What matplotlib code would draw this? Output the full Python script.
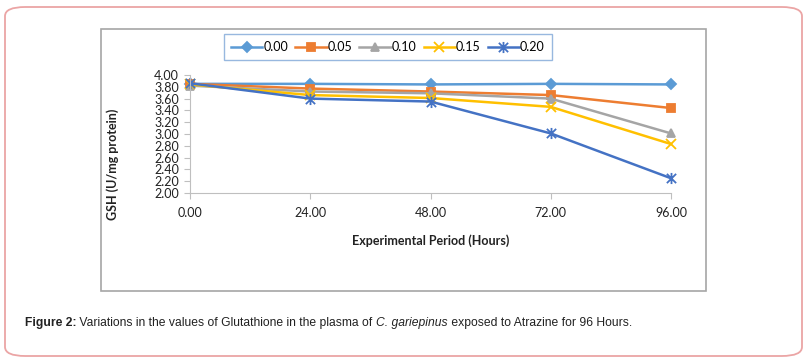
import matplotlib.pyplot as plt
from matplotlib.patches import FancyBboxPatch, Rectangle
from matplotlib.path import Path

# data
hours = [0, 24, 48, 72, 96]
hour_labels = ['0.00', '24.00', '48.00', '72.00', '96.00']
doses = ['0.00', '0.05', '0.10', '0.15', '0.20']
gsh_000 = [3.85, 3.85, 3.84, 3.85, 3.84]
gsh_005 = [3.85, 3.77, 3.72, 3.66, 3.44]
gsh_010 = [3.82, 3.72, 3.69, 3.60, 3.01]
gsh_015 = [3.84, 3.66, 3.61, 3.46, 2.83]
gsh_020 = [3.86, 3.60, 3.55, 3.01, 2.25]
y_ticks = [2.0, 2.2, 2.4, 2.6, 2.8, 3.0, 3.2, 3.4, 3.6, 3.8, 4.0]

# excel style star: an x with a vertical stroke
star = Path([(-1, -1), (1, 1), (-1, 1), (1, -1), (0, -1.2), (0, 1.2)],
            [Path.MOVETO, Path.LINETO, Path.MOVETO, Path.LINETO,
             Path.MOVETO, Path.LINETO])

series = [gsh_000, gsh_005, gsh_010, gsh_015, gsh_020]
colors = ['#5B9BD5', '#ED7D31', '#A5A5A5', '#FFC000', '#4472C4']
markers = ['D', 's', '^', 'x', star]
msizes = [5, 6, 6, 7, 8]

plt.rcParams['font.family'] = ['Lato', 'DejaVu Sans']

fig = plt.figure(figsize=(8.09, 3.63), dpi=100)
W, H = 809, 363

# outer rounded frame
frame = FancyBboxPatch((5 / W, 7 / H), 797 / W, 349 / H,
                       boxstyle='round,pad=0,rounding_size=0.025',
                       transform=fig.transFigure, facecolor='white',
                       edgecolor='#EBA5A5', linewidth=1.3, zorder=-2)
fig.patches.append(frame)

# chart area box
box = Rectangle((101 / W, (H - 291) / H), 605 / W, 262 / H,
                transform=fig.transFigure, facecolor='white',
                edgecolor='#A6A6A6', linewidth=1.2, zorder=-1)
fig.patches.append(box)

ax = fig.add_axes([190 / W, (H - 193) / H, 481 / W, 118 / H])
ax.set_zorder(3)
ax.patch.set_alpha(0)
for s, c, m, ms, lab in zip(series, colors, markers, msizes, doses):
    ax.plot(hours, s, color=c, marker=m, markersize=ms, linewidth=1.8,
            markeredgewidth=1.3, label=lab, clip_on=False)

ax.set_xlim(0, 96)
ax.set_ylim(2, 4)
ax.set_xticks(hours)
ax.set_xticklabels(hour_labels)
ax.set_yticks(y_ticks)
ax.set_yticklabels(['%.2f' % v for v in y_ticks])
ax.spines['top'].set_visible(False)
ax.spines['right'].set_visible(False)
ax.spines['left'].set_color('#BFBFBF')
ax.spines['bottom'].set_color('#BFBFBF')
ax.tick_params(axis='y', length=4, color='#BFBFBF', labelsize=9, pad=4,
               labelcolor='#222222')
ax.tick_params(axis='x', length=4, color='#BFBFBF', labelsize=9, pad=6,
               labelcolor='#222222')

ax.set_xlabel('Experimental Period (Hours)', fontsize=9, fontweight='bold',
              labelpad=11, color='#222222')
ax.set_ylabel('GSH (U/mg protein)', fontsize=9, fontweight='bold',
              color='#222222')
# excel places this label lower than the axis middle
ax.yaxis.set_label_coords(-0.148, 0.246)

leg = fig.legend(loc='center', bbox_to_anchor=(388 / W, (H - 47) / H), ncol=5,
                 fontsize=9, frameon=True, fancybox=False,
                 handlelength=2.5, handletextpad=0.1, columnspacing=0.55,
                 borderpad=0.55)
leg.set_zorder(4)
leg.get_frame().set_edgecolor('#7FA7D8')
leg.get_frame().set_linewidth(1.0)

# caption, pieced together so the species name can be italic
cap_y = (H - 323) / H
parts = [('Figure 2:', 'bold', 'normal'),
         (' Variations in the values of Glutathione in the plasma of ', 'normal', 'normal'),
         ('C. gariepinus', 'normal', 'italic'),
         (' exposed to Atrazine for 96 Hours.', 'normal', 'normal')]
renderer = fig.canvas.get_renderer()
x = 25
for txt, wt, st in parts:
    t = fig.text(x / W, cap_y, txt, fontsize=8.7, fontweight=wt, fontstyle=st,
                 family='Liberation Sans', va='center', color='#222222')
    x += t.get_window_extent(renderer).width

fig.savefig('out.png', dpi=100)
